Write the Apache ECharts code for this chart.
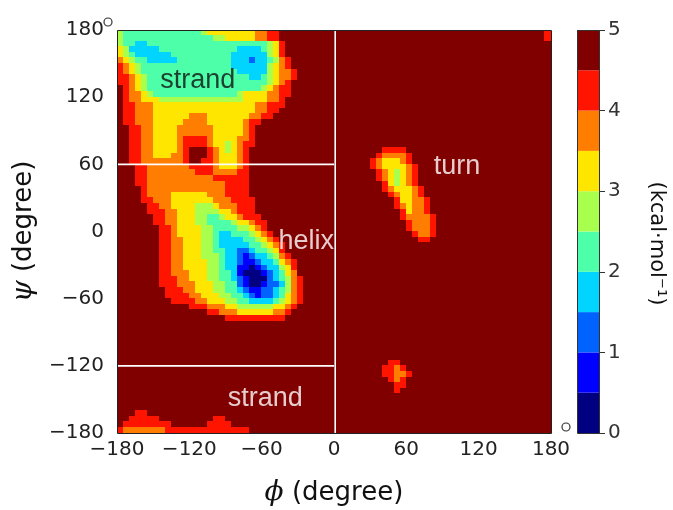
<!DOCTYPE html>
<html><head><meta charset="utf-8">
<script src="https://cdn.jsdelivr.net/npm/echarts@6/dist/echarts.min.js"></script>
<style>html,body{margin:0;padding:0;background:#fff}#c{width:673px;height:510px}</style>
</head><body><div id="c"></div>
<script>
// ---------------- data ----------------
const phiTicks = [-180, -120, -60, 0, 60, 120, 180];
const psiTicks = [-180, -120, -60, 0, 60, 120, 180];
const energyTicks = [0, 1, 2, 3, 4, 5];
const energyEdges = [0, 0.5, 1, 1.5, 2, 2.5, 3, 3.5, 4, 4.5, 5];
const levelColors = ['#000080', '#0000ff', '#0063ff', '#00d4ff', '#4effa9',
                     '#a9ff4e', '#ffe600', '#ff7d00', '#ff1400', '#800000'];
const cellDeg = 5;
// free-energy level (0..9 = 0.5 kcal/mol bins) on a 5° grid;
// each row runs phi -180 -> 180, rows go psi 180 (top) -> -180; tokens are "level*count"
const freeEnergyRows = [
 '5 4*13 5 6*8 7*2 8*2 9*9  9*35 8',
 '5 4*15 5*2 6*5 7*2 8*2 9*9  9*35 8',
 '5 4*2 3*2 4*20 5 6 8 9*8  9*36',
 '6 5 3*5 4*13 3*4 4 5 6 8 9*8  9*36',
 '6 5 4 3*6 4*10 3*6 5 6 8 9*8  9*36',
 '7 6 5 4*2 3*5 4*9 3*3 2 3*2 4 5 7 8 9*7  9*36',
 '8 7 6 5 4*15 3*6 5 6 7 8 9*7  9*36',
 '8 7 6 5 4*16 3*5 5 6 7 7 8 9*6  9*36',
 '8 8 7 6 5 4*17 3*2 4 5 6 7 7 8 9*6  9*36',
 '8 8 7 6 5 4*20 5 6 7 8 9*7  9*36',
 '9 8 7 6 5 4*19 5 6 7 8*2 9*7  9*36',
 '9 8 7*2 6 5 4*14 5 6*4 7*2 8*2 9*7  9*36',
 '9 8 7*2 6*3 5*14 6*4 7*2 8 9*8  9*36',
 '9 8 8 7*3 6*17 7*2 8*3 9*8  9*36',
 '9 8 8 7*3 6*17 7*2 8*2 9*9  9*36',
 '9 8 8 7*3 6*6 7*3 6*7 7*2 8*2 9*10  9*36',
 '9 8 8 7*3 6*5 7*4 6*6 7 8*2 9*12  9*36',
 '9*2 8*2 7*2 6*4 7*6 6*5 7 8 9*13  9*36',
 '9*2 8*2 7*2 6*4 7*6 6*5 7 8 9*13  9*36',
 '9*2 8*2 7*2 6*4 7 8*4 7 6*4 7*2 8 9*13  9*36',
 '9*2 8*2 7*2 6*4 7 8*4 7 6*2 5 6 7 8*2 9*13  9*36',
 '9*2 8*2 7*2 6*4 7 8 9*3 8 7 6 5 6 7 8 9*14  9*8 8*4 9*24',
 '9*2 8*2 7*2 6*3 7*2 8 9*3 8 7 6*3 7 8 9*14  9*7 8 7*4 8 9*23',
 '9*2 8*2 7*2 7*5 8 9*2 8*2 7 6*3 7 8 9*14  9*6 8 7 6*3 7 8 9*23',
 '9*3 8*2 7*7 8*4 7 6*3 7 8 9*14  9*6 8 7 6*4 7 8 9*22',
 '9*3 8*2 7*8 8*3 7*4 8*2 9*14  9*7 8 7 6 5 6 7 8 9*22',
 '9*3 8*2 7*11 8*6 9*14  9*7 8 7 6 5 6 7 8 9*22',
 '9*3 8*2 7*13 8*4 9*14  9*8 8 6 5 6 7 8 9*22',
 '9*4 8 7*13 8*4 9*14  9*8 8 7 6*3 7 8 9*21',
 '9*4 8 7*4 6*6 7*3 8*4 9*14  9*9 8 7 6*2 7 8 9*21',
 '9*4 8*2 7*3 6*7 7*3 8*4 9*13  9*10 8 6*2 7*2 8 9*20',
 '9*5 8*2 7*2 6*4 5*3 6 7*3 8*3 9*13  9*10 8 7 6 7*2 8 9*20',
 '9*5 8*3 7*2 6*3 5*4 6*2 7 8*3 9*13  9*11 8 6 7*2 8 9*20',
 '9*6 8*2 7*2 6*3 5*2 4*2 5 6*2 7 8*3 9*12  9*11 8 7*4 8 9*19',
 '9*6 8*2 7*2 6*3 5*2 4*4 5 6*2 7 8*2 9*11  9*12 8 7*3 8 9*19',
 '9*7 8*2 7 6*4 5*2 4*4 5*2 6 7 8 9*11  9*12 8 7*3 8 9*19',
 '9*7 8*2 7 6*4 5*2 4 3*2 4*3 5 6 7 8 9*10  9*13 8 7*2 8 9*19',
 '9*7 8*2 7*2 6*3 5*2 4 3*4 4*2 5 6 7 8 9*9  9*14 8*2 9*20',
 '9*7 8*2 7*2 6*3 5*2 4 3*5 4*2 5 6 7 8 9*8  9*36',
 '9*7 8*2 7*2 6*3 5*2 4*2 3*2 2*2 3 4*2 5 6 8 9*8  9*36',
 '9*7 8*2 7*2 6*3 5*3 4 3*2 2 1 2 3*2 4 5 7 8 9*7  9*36',
 '9*7 8*2 7*2 6*4 5*2 4 3*2 2 1*2 2 3*2 4 6 7 8 9*6  9*36',
 '9*7 8*2 7*2 6*4 5*2 4 3*2 1*2 0 1 2 3*2 5 6 8 9*6  9*36',
 '9*7 8*2 7*3 6*3 5*2 4*2 3 1 0*3 1 2 3 4 6 7 9*6  9*36',
 '9*7 8*3 7*2 6*3 5*2 4*2 3 2 1 0*3 2 3 4 5 7 8 9*5  9*36',
 '9*7 8*3 7*3 6*3 5*2 4*2 2 1 0*2 1 2*2 3 5 7 8 9*5  9*36',
 '9*8 8*3 7*2 6*3 5*2 4*2 3 2 1*2 2*2 3 4 5 7 8 9*5  9*36',
 '9*8 8*4 7*2 6*3 5*2 4*2 3 2 1 2*2 3 4 6 7 8 9*5  9*36',
 '9*9 8*4 7*2 6*3 5*2 4*2 3*4 4 5 6 7 8 9*5  9*36',
 '9*12 8*3 7*3 6*2 5*6 6*2 7 8 9*6  9*36',
 '9*15 8*2 7*3 6*6 7*2 8 9*7  9*36',
 '9*18 8*10 9*8  9*36',
 '9*72', '9*72', '9*72', '9*72', '9*72', '9*72', '9*72',
 '9*36  9*9 8*2 9*25',
 '9*36  9*8 8*2 7 8 9*24',
 '9*36  9*8 8*2 7*2 8 9*23',
 '9*36  9*9 8 7 8 9*24',
 '9*36  9*10 8*2 9*24',
 '9*36  9*10 8 9*25',
 '9*72', '9*72', '9*72',
 '9*3 8*2 9*31  9*36',
 '9*2 8*5 9*9 8*2 9*18  9*36',
 '9 8*8 9*6 8*4 9*17  9*36',
 '8 7*7 8*14 9*14  9*36'
];
// region annotations: [text, phi, psi, colour]
const regionLabels = [
  ['strand', -113, 135, '#111'],
  ['helix', -23, -9, '#ffffff'],
  ['turn', 102, 58, '#ffffff'],
  ['strand', -57, -149, '#ffffff']
];
// white separators between regions
const dividers = [
  [[-180, 60], [0, 60]],
  [[-180, -120], [0, -120]],
  [[1, -180], [1, 180]]
];

// ---------------- build cells ----------------
const cells = [];
freeEnergyRows.forEach((row, j) => {
  const levels = [];
  row.trim().split(/\s+/).forEach(tok => {
    const p = tok.split('*');
    const lv = +p[0], n = p.length > 1 ? +p[1] : 1;
    for (let k = 0; k < n; k++) levels.push(lv);
  });
  if (levels.length !== 72) throw new Error('row ' + j + ' has ' + levels.length + ' cells');
  levels.forEach((lv, i) => {
    cells.push([-180 + cellDeg * (i + 0.5), 180 - cellDeg * (j + 0.5), lv]);
  });
});

const fmtDeg = v => (v < 0 ? '\u2212' + Math.abs(v) : String(v));
const tickFont = 'DejaVu Sans';

const series = [];
series.push({
  type: 'custom',
  xAxisIndex: 0, yAxisIndex: 0,
  data: cells,
  clip: true,
  z: 2,
  silent: true,
  renderItem: function (params, api) {
    const phi = api.value(0), psi = api.value(1), lv = api.value(2);
    const a = api.coord([phi - cellDeg / 2, psi + cellDeg / 2]);
    const b = api.coord([phi + cellDeg / 2, psi - cellDeg / 2]);
    const x0 = Math.floor(a[0]), y0 = Math.floor(a[1]);
    const x1 = Math.ceil(b[0]), y1 = Math.ceil(b[1]);
    return { type: 'rect', shape: { x: x0, y: y0, width: x1 - x0, height: y1 - y0 },
             style: { fill: levelColors[lv] } };
  }
});
dividers.forEach(d => series.push({
  type: 'line', xAxisIndex: 0, yAxisIndex: 0, data: d, symbol: 'none', z: 5,
  lineStyle: { color: '#ffffff', width: 1.6 }, silent: true
}));
series.push({
  type: 'scatter', xAxisIndex: 0, yAxisIndex: 0, symbolSize: 0, z: 6, silent: true,
  data: regionLabels.map(r => ({ value: [r[1], r[2]], name: r[0],
    label: { color: r[3] } })),
  label: { show: true, position: 'inside', formatter: '{b}', fontSize: 27,
           fontFamily: 'Liberation Sans' }
});
// colour bar: stacked 0.5-kcal segments
for (let k = 0; k < energyEdges.length - 1; k++) {
  series.push({
    type: 'bar', xAxisIndex: 1, yAxisIndex: 1, stack: 'cbar',
    data: [energyEdges[k + 1] - energyEdges[k]], barWidth: '100%', silent: true,
    itemStyle: { color: levelColors[k] }
  });
}

const chart = echarts.init(document.getElementById('c'), null, { renderer: 'canvas' });
chart.setOption({
  animation: false,
  backgroundColor: '#ffffff',
  tooltip: { show: false },
  grid: [
    { left: 117, top: 30, width: 434, height: 403, show: false, containLabel: false, outerBoundsMode: 'none' },
    { left: 577, top: 30, width: 22, height: 403, show: false, containLabel: false, outerBoundsMode: 'none' }
  ],
  xAxis: [
    { type: 'value', gridIndex: 0, min: phiTicks[0], max: phiTicks[phiTicks.length - 1],
      interval: phiTicks[1] - phiTicks[0],
      axisLine: { show: false }, splitLine: { show: false },
      axisTick: { show: true, length: 7, lineStyle: { color: '#222', width: 1 } },
      axisLabel: { fontSize: 20, color: '#222', fontFamily: tickFont, margin: 7, formatter: fmtDeg },
      name: '{g|\u03d5} (degree)', nameLocation: 'middle', nameGap: 46,
      nameTextStyle: { fontSize: 26, color: '#111', fontFamily: 'DejaVu Sans',
        rich: { g: { fontSize: 28, fontStyle: 'italic', fontFamily: 'DejaVu Serif', color: '#111' } } } },
    { type: 'category', gridIndex: 1, data: ['G'], show: false }
  ],
  yAxis: [
    { type: 'value', gridIndex: 0, min: psiTicks[0], max: psiTicks[psiTicks.length - 1],
      interval: psiTicks[1] - psiTicks[0],
      axisLine: { show: false }, splitLine: { show: false },
      axisTick: { show: true, length: 7, lineStyle: { color: '#222', width: 1 } },
      axisLabel: { fontSize: 20, color: '#222', fontFamily: tickFont, margin: 13, formatter: fmtDeg },
      name: '{g|\u03c8} (degree)', nameLocation: 'middle', nameGap: 70, nameRotate: 90,
      nameTextStyle: { fontSize: 26, color: '#111', fontFamily: 'DejaVu Sans',
        rich: { g: { fontSize: 28, fontStyle: 'italic', fontFamily: 'DejaVu Serif', color: '#111' } } } },
    { type: 'value', gridIndex: 1, position: 'right', min: energyTicks[0],
      max: energyTicks[energyTicks.length - 1], interval: 1,
      axisLine: { show: false }, splitLine: { show: false },
      axisTick: { show: true, length: 6, lineStyle: { color: '#333', width: 1 } },
      axisLabel: { fontSize: 20, color: '#333', fontFamily: tickFont, margin: 9 },
      name: '(kcal\u00b7mol\u207b\u00b9)', nameLocation: 'middle', nameGap: 47, nameRotate: -90,
      nameTextStyle: { fontSize: 21, color: '#111', fontFamily: 'DejaVu Sans',
        padding: [0, 0, 0, 24] } }
  ],
  series: series
});

// frames round the plot and the colour bar, and the small degree marks next to the 180 labels
const tl = chart.convertToPixel({ gridIndex: 0 }, [phiTicks[0], psiTicks[psiTicks.length - 1]]);
const br = chart.convertToPixel({ gridIndex: 0 }, [phiTicks[phiTicks.length - 1], psiTicks[0]]);
const ctl = chart.convertToPixel({ xAxisIndex: 1, yAxisIndex: 1 }, ['G', energyTicks[energyTicks.length - 1]]);
const cbr = chart.convertToPixel({ xAxisIndex: 1, yAxisIndex: 1 }, ['G', energyTicks[0]]);
const cbW = 22;
chart.setOption({
  graphic: [
    { type: 'rect', shape: { x: tl[0] + 0.5, y: tl[1] + 0.5, width: br[0] - tl[0], height: br[1] - tl[1] },
      z: 20, silent: true, style: { fill: 'none', stroke: '#222', lineWidth: 1 } },
    { type: 'rect', shape: { x: ctl[0] - cbW / 2 + 0.5, y: ctl[1] + 0.5, width: cbW, height: cbr[1] - ctl[1] },
      z: 20, silent: true, style: { fill: 'none', stroke: '#333', lineWidth: 1 } },
    { type: 'circle', shape: { cx: tl[0] - 9, cy: tl[1] - 8, r: 4 }, z: 20, silent: true,
      style: { fill: 'none', stroke: '#333', lineWidth: 1.2 } },
    { type: 'circle', shape: { cx: br[0] + 15, cy: br[1] - 6, r: 4 }, z: 20, silent: true,
      style: { fill: 'none', stroke: '#333', lineWidth: 1.2 } }
  ]
});
</script>
</body></html>
